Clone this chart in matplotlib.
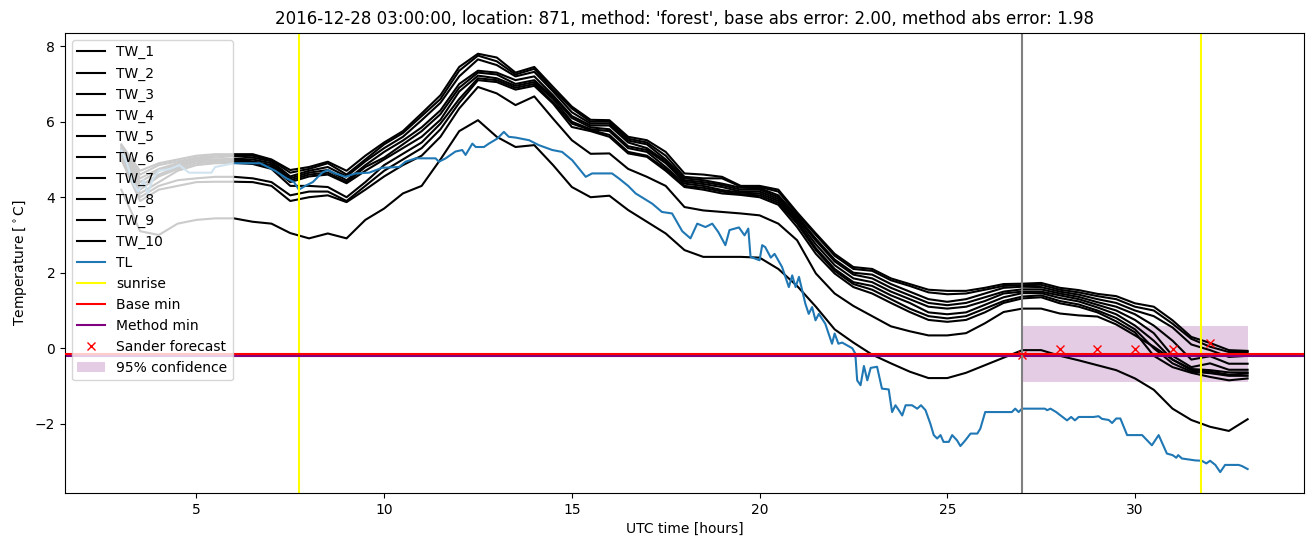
import numpy as np
import matplotlib
matplotlib.use("Agg")
import matplotlib.pyplot as plt

# ---------------- data ----------------
hours = np.arange(3.0, 33.01, 0.5)  # 61 time stamps (UTC hours)

tw_1 = [5.40, 4.70, 4.90, 5.00, 5.10, 5.14, 5.14, 5.14, 5.00, 4.72,
        4.80, 4.94, 4.70, 5.10, 5.45, 5.75, 6.22, 6.70, 7.45, 7.80,
        7.70, 7.30, 7.45, 6.92, 6.40, 6.05, 6.04, 5.60, 5.51, 5.20,
        4.63, 4.60, 4.54, 4.30, 4.30, 4.20, 3.60, 3.04, 2.50, 2.15,
        2.10, 1.85, 1.70, 1.55, 1.52, 1.52, 1.60, 1.70, 1.71, 1.73,
        1.60, 1.54, 1.44, 1.38, 1.19, 1.10, 0.74, 0.30, 0.14, -0.05,
        -0.07]
tw_2 = [5.38, 4.60, 4.85, 4.95, 5.05, 5.10, 5.10, 5.10, 4.98, 4.65,
        4.75, 4.90, 4.60, 5.00, 5.40, 5.70, 6.15, 6.60, 7.35, 7.75,
        7.60, 7.25, 7.40, 6.85, 6.35, 6.00, 6.00, 5.55, 5.45, 5.10,
        4.54, 4.50, 4.50, 4.28, 4.27, 4.15, 3.55, 3.00, 2.45, 2.10,
        2.05, 1.80, 1.65, 1.48, 1.43, 1.45, 1.55, 1.65, 1.67, 1.68,
        1.55, 1.48, 1.38, 1.30, 1.10, 1.00, 0.65, 0.25, 0.04, -0.10,
        -0.10]
tw_3 = [5.35, 4.50, 4.75, 4.90, 5.02, 5.05, 5.09, 5.05, 4.95, 4.55,
        4.70, 4.80, 4.55, 4.95, 5.30, 5.60, 6.04, 6.50, 7.20, 7.65,
        7.50, 7.20, 7.32, 6.80, 6.25, 5.95, 5.95, 5.50, 5.40, 5.00,
        4.50, 4.45, 4.36, 4.25, 4.24, 4.05, 3.50, 2.90, 2.35, 2.00,
        1.95, 1.70, 1.50, 1.30, 1.23, 1.30, 1.45, 1.60, 1.63, 1.62,
        1.50, 1.42, 1.30, 1.20, 1.00, 0.85, 0.55, 0.10, -0.05, -0.23,
        -0.20]
tw_4 = [5.30, 4.40, 4.70, 4.85, 4.98, 5.00, 5.02, 5.00, 4.90, 4.50,
        4.65, 4.72, 4.45, 4.85, 5.20, 5.50, 5.85, 6.30, 7.00, 7.35,
        7.30, 7.10, 7.20, 6.70, 6.15, 5.90, 5.90, 5.45, 5.30, 4.95,
        4.45, 4.40, 4.32, 4.20, 4.20, 4.00, 3.45, 2.85, 2.30, 1.95,
        1.85, 1.60, 1.40, 1.20, 1.14, 1.20, 1.35, 1.50, 1.56, 1.56,
        1.45, 1.36, 1.22, 1.10, 0.90, 0.60, 0.20, -0.30, -0.21, -0.41,
        -0.41]
tw_5 = [5.28, 4.30, 4.60, 4.80, 4.95, 4.98, 5.00, 4.95, 4.85, 4.45,
        4.60, 4.65, 4.40, 4.80, 5.05, 5.40, 5.75, 6.20, 6.90, 7.30,
        7.25, 7.00, 7.10, 6.65, 6.10, 5.85, 5.80, 5.35, 5.25, 4.90,
        4.41, 4.35, 4.27, 4.15, 4.15, 3.95, 3.40, 2.75, 2.20, 1.85,
        1.75, 1.50, 1.30, 1.10, 1.05, 1.10, 1.25, 1.45, 1.50, 1.50,
        1.40, 1.30, 1.15, 1.00, 0.75, 0.40, -0.20, -0.50, -0.40, -0.57,
        -0.57]
tw_6 = [5.25, 4.20, 4.55, 4.75, 4.90, 4.94, 4.96, 4.92, 4.80, 4.40,
        4.55, 4.60, 4.37, 4.70, 5.00, 5.30, 5.60, 6.05, 6.80, 7.22,
        7.15, 6.95, 7.05, 6.60, 6.00, 5.80, 5.75, 5.30, 5.20, 4.80,
        4.36, 4.30, 4.19, 4.12, 4.10, 3.90, 3.35, 2.65, 2.10, 1.75,
        1.65, 1.40, 1.20, 0.95, 0.90, 0.95, 1.15, 1.35, 1.46, 1.46,
        1.33, 1.24, 1.08, 0.90, 0.60, 0.20, -0.30, -0.55, -0.58, -0.64,
        -0.64]
tw_7 = [5.20, 4.10, 4.40, 4.70, 4.85, 4.90, 4.91, 4.88, 4.75, 4.30,
        4.30, 4.27, 4.00, 4.40, 4.85, 5.15, 5.45, 5.95, 6.60, 7.15,
        7.10, 6.90, 7.00, 6.52, 5.95, 5.78, 5.65, 5.20, 5.10, 4.75,
        4.30, 4.25, 4.15, 4.08, 4.05, 3.85, 3.30, 2.60, 2.05, 1.70,
        1.55, 1.30, 1.05, 0.85, 0.79, 0.85, 1.05, 1.25, 1.37, 1.40,
        1.25, 1.16, 1.00, 0.80, 0.50, 0.00, -0.40, -0.62, -0.66, -0.73,
        -0.73]
tw_8 = [5.10, 4.00, 4.30, 4.45, 4.50, 4.54, 4.54, 4.50, 4.40, 4.05,
        4.15, 4.15, 3.90, 4.30, 4.70, 5.00, 5.30, 5.80, 6.50, 7.10,
        7.05, 6.85, 6.95, 6.48, 5.86, 5.75, 5.60, 5.16, 5.07, 4.70,
        4.27, 4.20, 4.10, 4.06, 4.00, 3.80, 3.21, 2.50, 1.98, 1.62,
        1.45, 1.20, 0.96, 0.75, 0.70, 0.75, 0.95, 1.20, 1.32, 1.35,
        1.19, 1.10, 0.95, 0.71, 0.42, -0.20, -0.50, -0.65, -0.76, -0.85,
        -0.80]
tw_9 = [5.00, 3.90, 4.20, 4.30, 4.40, 4.41, 4.41, 4.40, 4.30, 3.90,
        4.00, 4.05, 3.87, 4.20, 4.55, 4.85, 5.10, 5.60, 6.35, 6.92,
        6.75, 6.44, 6.67, 6.08, 5.51, 5.15, 5.16, 4.75, 4.54, 4.30,
        3.74, 3.65, 3.61, 3.57, 3.52, 3.30, 2.86, 1.98, 1.45, 1.12,
        0.85, 0.58, 0.45, 0.34, 0.34, 0.40, 0.66, 0.96, 1.05, 1.05,
        0.92, 0.87, 0.84, 0.63, 0.34, 0.04, -0.30, -0.58, -0.62, -0.70,
        -0.67]
tw_10 = [4.20, 3.10, 3.00, 3.30, 3.40, 3.44, 3.44, 3.35, 3.30, 3.05,
         2.91, 3.04, 2.91, 3.40, 3.70, 4.10, 4.30, 5.00, 5.75, 6.04,
         5.60, 5.33, 5.38, 4.85, 4.27, 4.00, 4.04, 3.66, 3.35, 3.04,
         2.60, 2.42, 2.42, 2.42, 2.40, 2.10, 1.65, 1.10, 0.50, 0.15,
         -0.17, -0.40, -0.62, -0.79, -0.79, -0.65, -0.45, -0.25, -0.05, -0.05,
         -0.20, -0.32, -0.45, -0.58, -0.80, -1.10, -1.60, -1.90, -2.08, -2.19,
         -1.88]
tw_series = [tw_1, tw_2, tw_3, tw_4, tw_5, tw_6, tw_7, tw_8, tw_9, tw_10]
tw_labels = ["TW_1", "TW_2", "TW_3", "TW_4", "TW_5",
             "TW_6", "TW_7", "TW_8", "TW_9", "TW_10"]

tl_hours = [3.0, 3.15, 3.3, 3.45, 3.6, 3.7, 3.85, 4.0, 4.3, 4.55, 4.8, 5.4, 5.5, 6.0,
            6.7, 7.1, 7.4, 7.6, 7.73, 7.9, 8.1, 8.35, 8.5, 8.7, 8.97, 9.24, 9.6, 9.95,
            10.4, 10.57, 10.84, 11.37, 11.46, 11.64, 11.9, 12.08, 12.17, 12.35, 12.44,
            12.66, 12.79, 13.01, 13.19, 13.32, 13.5, 13.86, 14.12, 14.48, 14.74, 15.01,
            15.2, 15.37, 15.54, 16.07, 16.25, 16.5, 16.7, 17.14, 17.4, 17.67, 17.94,
            18.16, 18.34, 18.56, 18.74, 18.9, 19.09, 19.2, 19.45, 19.6, 19.7, 19.76,
            20.0, 20.07, 20.15, 20.3, 20.4, 20.6, 20.78, 20.87, 20.96, 21.05, 21.22,
            21.31, 21.4, 21.49, 21.58, 21.75, 21.93, 22.0, 22.1, 22.2, 22.47, 22.55,
            22.6, 22.69, 22.78, 22.87, 22.96, 23.13, 23.26, 23.44, 23.53, 23.62, 23.71,
            23.8, 23.89, 24.06, 24.2, 24.3, 24.42, 24.55, 24.64, 24.73, 24.82, 24.9,
            25.04, 25.13, 25.26, 25.35, 25.48, 25.62, 25.8, 25.88, 26.01, 26.72, 26.81,
            26.9, 26.99, 27.6, 27.66, 27.75, 27.9, 28.19, 28.3, 28.4, 28.5, 28.9, 29.03,
            29.12, 29.3, 29.39, 29.5, 29.61, 29.79, 30.19, 30.45, 30.63, 30.85, 31.0,
            31.1, 31.15, 31.25, 31.6, 31.78, 31.9, 32.0, 32.14, 32.27, 32.4, 32.76,
            32.85, 33.0]
tl_values = [5.25, 4.9, 4.4, 4.15, 4.45, 4.1, 4.5, 4.7, 4.75, 4.85, 4.65, 4.65, 4.8, 4.9,
             4.9, 4.7, 4.5, 4.4, 4.2, 4.3, 4.4, 4.65, 4.72, 4.63, 4.54, 4.63, 4.65, 4.78,
             4.8, 4.94, 5.03, 5.03, 4.94, 5.03, 5.21, 5.25, 5.12, 5.42, 5.33,
             5.33, 5.42, 5.55, 5.73, 5.6, 5.58, 5.51, 5.38, 5.25, 5.2, 4.98,
             4.75, 4.54, 4.63, 4.63, 4.5, 4.3, 4.1, 3.83, 3.61, 3.57, 3.1,
             2.91, 3.3, 3.21, 3.3, 3.08, 2.73, 3.13, 3.2, 2.99, 3.17, 2.42,
             2.33, 2.73, 2.68, 2.4, 2.5, 2.15, 1.62, 1.93, 1.62, 1.89, 1.18,
             0.91, 1.09, 0.74, 0.91, 0.65, 0.12, 0.39, 0.12, 0.15, 0.0, -0.14,
             -0.85, -0.98, -0.47, -0.85, -0.52, -0.49, -1.07, -1.09, -1.69, -1.51, -1.64,
             -1.78, -1.51, -1.51, -1.6, -1.51, -1.64, -2.0, -2.3, -2.39, -2.3, -2.48,
             -2.48, -2.3, -2.44, -2.59, -2.44, -2.26, -2.26, -2.13, -1.69, -1.69, -1.6,
             -1.69, -1.6, -1.6, -1.64, -1.6, -1.69, -1.91, -1.82, -1.91, -1.82, -1.82, -1.8,
             -1.87, -1.9, -1.98, -1.86, -1.86, -2.3, -2.3, -2.57, -2.3, -2.79, -2.83,
             -2.9, -2.83, -2.92, -2.97, -2.98, -3.05, -2.98, -3.09, -3.28, -3.09, -3.09,
             -3.12, -3.2]

sunrise_hours = [7.73, 31.75]
forecast_hour = 27.0
base_min = -0.165
method_min = -0.20
sander_hours = [27, 28, 29, 30, 31, 32]
sander_values = [-0.19, -0.03, -0.01, -0.01, -0.01, 0.15]
conf_hours = [27.0, 33.0]
conf_low = -0.90
conf_high = 0.60

title = ("2016-12-28 03:00:00, location: 871, method: 'forest', "
         "base abs error: 2.00, method abs error: 1.98")

# ---------------- plot ----------------
fig = plt.figure(figsize=(13.13, 5.47), dpi=100)
ax = fig.add_axes([0.0495, 0.0987, 0.9436, 0.8413])

for vals, lab in zip(tw_series, tw_labels):
    ax.plot(hours, vals, color="black", label=lab)
ax.plot(tl_hours, tl_values, color="#1f77b4", label="TL")
ax.axvline(sunrise_hours[0], color="yellow", label="sunrise")
ax.axvline(sunrise_hours[1], color="yellow")
ax.axhline(base_min, color="red", label="Base min", zorder=3)
ax.axhline(method_min, color="purple", label="Method min")
ax.plot(sander_hours, sander_values, "x", color="red", label="Sander forecast")
ax.fill_between(conf_hours, conf_low, conf_high, color="purple", alpha=0.2,
                linewidth=0, label="95% confidence")
ax.axvline(forecast_hour, color="grey")

ax.set_title(title)
ax.set_xlabel("UTC time [hours]")
ax.set_ylabel(r"Temperature [$^\circ$C]")
ax.legend(loc="upper left")

fig.savefig("out.png", dpi=100)
